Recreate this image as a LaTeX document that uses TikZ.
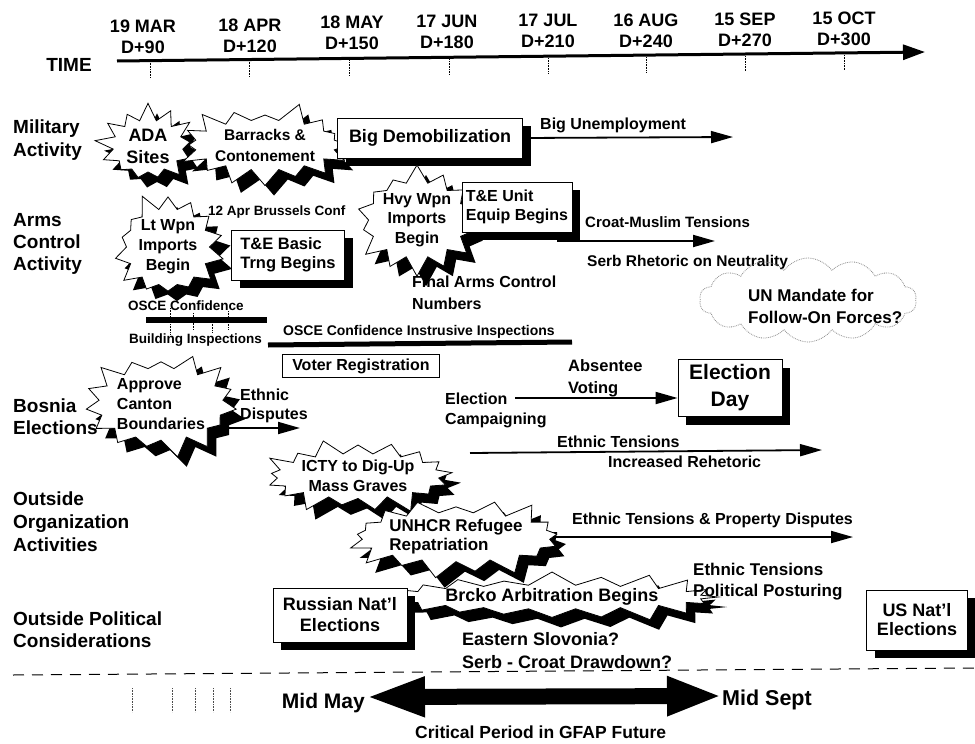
\documentclass[tikz,border=0pt]{standalone}
\usepackage{fontspec}
\setmainfont{Liberation Sans}
\usetikzlibrary{shapes.symbols,shadows,arrows.meta}
\begin{document}
\begin{tikzpicture}[x=1pt,y=-1pt]
\tikzset{
 fsz/.style 2 args={font=\bfseries\fontsize{#1}{#2}\selectfont},
 txt/.style={inner sep=0pt, align=left},
 shad/.style={drop shadow={shadow xshift=8pt,shadow yshift=-8pt,opacity=1,fill=black}},
 bshad/.style={drop shadow={shadow xshift=9pt,shadow yshift=-10pt,opacity=1,fill=black}},
 sbox/.style={draw, line width=0.8pt, fill=white, shad, inner sep=0pt},
 pbox/.style={draw, line width=0.8pt, fill=white, inner sep=0pt},
 burst/.style={starburst, draw, line width=0.8pt, fill=white, bshad, inner sep=0pt, starburst point height=19pt},
 arr/.style={line width=1.8pt, -{Triangle[length=22pt,width=12pt]}},
 tickln/.style={line width=0.6pt, densely dotted},
 bar/.style={line width=6pt},
}
\useasboundingbox (0,0) rectangle (975,744);
\fill[white] (0,0) rectangle (975,744);

% ---- timeline
\node[fsz={19}{22}, txt] (time) at (69,65) {TIME};
\coordinate (ax0) at (117,61);
\coordinate (ax1) at (925,52);
\draw[line width=3pt,-{Triangle[length=22pt,width=15pt]}] (ax0) -- (ax1);
\foreach \x/\y in {150/60.6,249/59.5,349/58.4,449/57.3,548/56.2,646/55.1,745/54.0,844/52.9}{
  \draw[tickln] (\x,\y+2) -- (\x,\y+17);
}
\node[fsz={18}{21}, align=center, inner sep=0pt] (m1) at (143,37) {19 MAR\\D+90};
\node[fsz={18}{21}, align=center, inner sep=0pt] (m2) at (250,35.5) {18 APR\\D+120};
\node[fsz={18}{21}, align=center, inner sep=0pt] (m3) at (352,33) {18 MAY\\D+150};
\node[fsz={18}{21}, align=center, inner sep=0pt] (m4) at (447,32) {17 JUN\\D+180};
\node[fsz={18}{21}, align=center, inner sep=0pt] (m5) at (548,31) {17 JUL\\D+210};
\node[fsz={18}{21}, align=center, inner sep=0pt] (m6) at (646,31) {16 AUG\\D+240};
\node[fsz={18}{21}, align=center, inner sep=0pt] (m7) at (745,30) {15 SEP\\D+270};
\node[fsz={18}{21}, align=center, inner sep=0pt] (m8) at (844,28.5) {15 OCT\\D+300};

% ---- row labels
\node[fsz={19}{23}, txt, anchor=west] (rMil) at (13,140) {Military\\Activity};
\node[fsz={19}{22}, txt, anchor=west] (rArms) at (13,244) {Arms\\Control\\Activity};
\node[fsz={19}{22}, txt, anchor=west] (rBos) at (13,417) {Bosnia\\Elections};
\node[fsz={19}{23}, txt, anchor=west] (rOrg) at (13,522) {Outside\\Organization\\Activities};
\node[fsz={19}{22}, txt, anchor=west] (rPol) at (13,630) {Outside Political\\Considerations};

% ---- military
\node[burst, starburst points=13, random starburst=17, minimum width=108pt, minimum height=90pt, fsz={18}{22}, align=center] (ada) at (148,146) {ADA\\Sites};
\node[burst, starburst points=16, random starburst=23, minimum width=138pt, minimum height=88pt, fsz={15.5}{21}, align=center] (barr) at (265,145) {Barracks \&\\Contonement};
\node[sbox, minimum width=185pt, minimum height=40pt, fsz={18}{22}] (demob) at (430,138) {Big Demobilization};
\node[fsz={16}{19}, txt, anchor=west] (unemp) at (540,125) {Big Unemployment};
\coordinate (unempEnd) at (733,137);
\draw[arr] (demob.east) -- (unempEnd);

% ---- arms control
\node[burst, starburst points=14, random starburst=5, minimum width=110pt, minimum height=90pt, fsz={16}{20}, align=center] (ltw) at (168,247) {Lt Wpn\\Imports\\Begin};
\node[fsz={13.5}{16}, txt, anchor=west] (brus) at (208,212) {12 Apr Brussels Conf};
\node[sbox, minimum width=113pt, minimum height=50pt, fsz={16.5}{19}, align=left] (teb) at (288,255) {T\&E Basic\\Trng Begins};
\node[burst, starburst points=14, random starburst=7, minimum width=124pt, minimum height=74pt, fsz={16}{19.5}, align=center] (hvy) at (417,220) {Hvy Wpn\\Imports\\Begin};
\node[sbox, minimum width=110pt, minimum height=50pt, fsz={16}{18.5}, align=left] (teu) at (517,207) {T\&E Unit\\Equip Begins};
\node[fsz={16}{22}, txt, anchor=north west] (final) at (412,276) {Final Arms Control\\Numbers};
\node[fsz={15}{18}, txt, anchor=west] (croat) at (585,222) {Croat-Muslim Tensions};
\coordinate (cm0) at (557,241);
\coordinate (cm1) at (715,241);
\draw[arr] (cm0) -- (cm1);
\node[fsz={15.5}{18}, txt, anchor=west] (serb) at (587,262) {Serb Rhetoric on Neutrality};
\node[cloud, cloud puffs=14, cloud puff arc=110, draw=black!45, densely dotted, line width=0.8pt, minimum width=217pt, minimum height=84pt, aspect=2.6, inner sep=0pt] (un) at (808,300) {};
\node[fsz={17}{22}, txt, anchor=west] (untext) at (748,306) {UN Mandate for\\Follow-On Forces?};

\node[fsz={13.5}{16}, txt, anchor=west] (osce1) at (128,306) {OSCE Confidence};
\node[fsz={13.5}{16}, txt, anchor=west] (osce2) at (129,340) {Building Inspections};
\coordinate (b1a) at (146,320);
\coordinate (b1b) at (267,320);
\draw[bar] (b1a) -- (b1b);
\foreach \x/\ya/\yb in {170/308/334,193/313/330,212/322/333,228/311/330}{
  \draw[tickln] (\x,\ya) -- (\x,\yb);
}
\node[fsz={14}{16}, txt, anchor=west] (osce3) at (283,332) {OSCE Confidence Instrusive Inspections};
\coordinate (b2a) at (268,345);
\coordinate (b2b) at (572,342);
\draw[line width=5pt] (b2a) -- (b2b);

% ---- elections
\node[burst, starburst points=15, random starburst=3, minimum width=145pt, minimum height=104pt, fsz={16}{20}, align=left] (appr) at (161,404) {Approve\\Canton\\Boundaries};
\node[pbox, minimum width=157pt, minimum height=23pt, fsz={16}{19}] (voter) at (361,366) {Voter Registration};
\node[fsz={16}{19}, txt, anchor=west] (ethd) at (240,406) {Ethnic\\Disputes};
\coordinate (ed1) at (300,428);
\draw[arr] (appr.-15 |- ed1) -- (ed1);
\node[fsz={16}{20}, txt, anchor=west] (camp) at (445,410) {Election\\Campaigning};
\node[fsz={16.5}{22}, txt, anchor=west] (abs) at (568,378) {Absentee\\Voting};
\node[sbox, minimum width=104pt, minimum height=57pt, fsz={21}{27}, align=center] (eday) at (730,388) {Election\\Day};
\coordinate (av0) at (515,398);
\draw[arr] (av0) -- (eday.west |- av0);
\coordinate (et0) at (470,453);
\coordinate (et1) at (822,450);
\draw[arr] (et0) -- (et1);
\node[fsz={16}{19}, txt, anchor=west] (eth1) at (557,442) {Ethnic Tensions};
\node[fsz={16}{19}, txt, anchor=west] (eth2) at (608,462) {Increased Rehetoric};

% ---- outside organizations
\node[burst, starburst points=17, random starburst=9, minimum width=200pt, minimum height=78pt, fsz={16}{20}, align=center] (icty) at (358,476) {ICTY to Dig-Up\\Mass Graves};
\node[burst, starburst points=17, random starburst=13, minimum width=193pt, minimum height=87pt, fsz={17}{19}, align=left] (unhcr) at (456,537) {UNHCR Refugee\\Repatriation};
\node[fsz={16}{19}, txt, anchor=west] (etp) at (572,520) {Ethnic Tensions \& Property Disputes};
\coordinate (etp1) at (853,537);
\draw[arr] (unhcr.east |- etp1) -- (etp1);

% ---- outside political
\node[burst, starburst points=20, random starburst=31, minimum width=286pt, minimum height=50pt, fsz={18}{21}] (brcko) at (552,597) {Brcko Arbitration Begins};
\node[sbox, minimum width=134pt, minimum height=54pt, fsz={18}{21}, align=center] (rus) at (340,615) {Russian Nat'l\\Elections};
\node[fsz={17}{21}, txt, anchor=west] (etpp) at (693,582) {Ethnic Tensions\\Political Posturing};
\node[sbox, minimum width=101pt, minimum height=60pt, fsz={18}{19}, align=center] (us) at (917,620) {US Nat'l\\Elections};
\node[fsz={18}{23}, txt, anchor=west] (east) at (462,651) {Eastern Slovonia?\\Serb - Croat Drawdown?};

% ---- bottom
\coordinate (d0) at (13,675);
\coordinate (d1) at (975,668);
\draw[dash pattern=on 11pt off 8pt, line width=1pt] (d0) -- (d1);
\foreach \x in {132,172,195,213,230}{
  \draw[tickln, black!70] (\x,688) -- (\x,712);
}
\node[fsz={21}{24}, txt, anchor=east] (midmay) at (365,703) {Mid May};
\node[fsz={21.5}{24}, txt, anchor=west] (midsept) at (722,700) {Mid Sept};
\draw[line width=16pt, {Triangle[length=60pt,width=36pt]}-{Triangle[length=55pt,width=36pt]}] ([yshift=6pt]midmay.east) -- ([yshift=4pt]midsept.west);
\node[fsz={17.5}{19}, txt, anchor=west] (crit) at (415,732) {Critical Period in GFAP Future};
\end{tikzpicture}
\end{document}
